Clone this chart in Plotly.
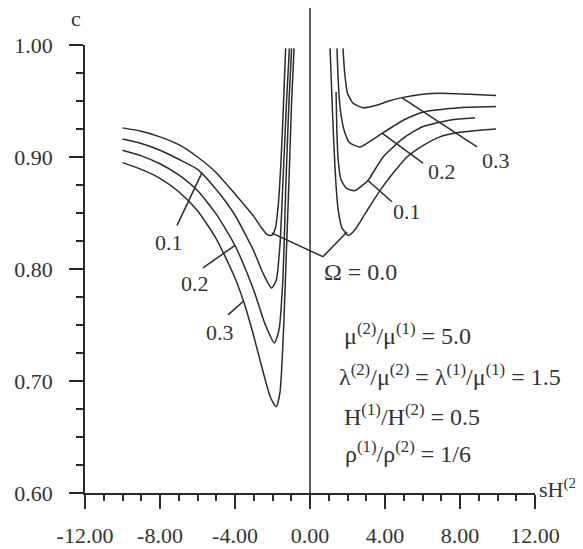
import plotly.graph_objects as go

# ---------------- data ----------------
x_tick_vals = [-12, -8, -4, 0, 4, 8, 12]
x_tick_text = ["-12.00", "-8.00", "-4.00", "0.00", "4.00", "8.00", "12.00"]
y_tick_vals = [0.60, 0.70, 0.80, 0.90, 1.00]
y_tick_text = ["0.60", "0.70", "0.80", "0.90", "1.00"]

# left branch (negative sH), Omega = 0.0, 0.1, 0.2, 0.3
left_x_00 = [-10, -9, -8, -7, -6, -5, -4, -3, -2.6, -2.3, -2.05, -1.85, -1.7, -1.55, -1.42, -1.3]
left_c_00 = [0.926, 0.923, 0.918, 0.911, 0.900, 0.886, 0.867, 0.847, 0.837, 0.831, 0.830, 0.836, 0.856, 0.895, 0.945, 0.997]
left_x_01 = [-10, -9, -8, -7, -6, -5, -4, -3, -2.5, -2.05, -1.8, -1.6, -1.44, -1.25, -1.1]
left_c_01 = [0.916, 0.912, 0.906, 0.898, 0.889, 0.871, 0.848, 0.816, 0.796, 0.783, 0.790, 0.822, 0.879, 0.950, 0.997]
left_x_02 = [-10, -9, -8, -7, -6, -5, -4, -3, -2.4, -1.9, -1.65, -1.45, -1.28, -1.12, -0.98]
left_c_02 = [0.906, 0.901, 0.894, 0.884, 0.870, 0.849, 0.821, 0.781, 0.751, 0.734, 0.746, 0.790, 0.879, 0.950, 0.997]
left_x_03 = [-10, -9, -8, -7, -6, -5, -4, -3.5, -3, -2.5, -2.1, -1.8, -1.6, -1.4, -1.25, -1.12, -0.98, -0.85]
left_c_03 = [0.895, 0.889, 0.881, 0.869, 0.852, 0.827, 0.792, 0.769, 0.740, 0.708, 0.685, 0.677, 0.690, 0.750, 0.820, 0.879, 0.950, 0.997]

# right branch (positive sH)
right_x_00 = [1.07, 1.2, 1.35, 1.5, 1.7, 2.05, 2.4, 3.0, 3.73, 4.5, 5.17, 6.0, 6.93, 8.0, 9.92]
right_c_00 = [0.997, 0.940, 0.885, 0.853, 0.837, 0.830, 0.835, 0.851, 0.870, 0.887, 0.900, 0.910, 0.918, 0.922, 0.925]
right_x_01 = [1.39, 1.43, 1.5, 1.65, 1.95, 2.4, 2.75, 3.09, 3.9, 5.0, 6.0, 7.5, 8.8]
right_c_01 = [0.958, 0.925, 0.898, 0.880, 0.872, 0.870, 0.874, 0.879, 0.900, 0.917, 0.927, 0.933, 0.935]
right_x_02 = [1.44, 1.5, 1.6, 1.8, 2.1, 2.67, 3.2, 3.84, 5.0, 6.0, 8.0, 9.92]
right_c_02 = [0.997, 0.970, 0.945, 0.925, 0.913, 0.909, 0.914, 0.921, 0.933, 0.940, 0.944, 0.945]
right_x_03 = [1.76, 1.85, 2.0, 2.3, 2.83, 3.5, 4.2, 4.9, 6.0, 6.93, 8.5, 9.92]
right_c_03 = [0.997, 0.975, 0.957, 0.948, 0.944, 0.946, 0.950, 0.953, 0.956, 0.957, 0.956, 0.955]

# label leader lines
leader_l01_x = [-7.09, -5.76]; leader_l01_c = [0.839, 0.886]
leader_l02_x = [-5.71, -4.0];  leader_l02_c = [0.801, 0.821]
leader_l03_x = [-4.37, -3.57]; leader_l03_c = [0.759, 0.771]
leader_r01_x = [4.37, 3.09];   leader_r01_c = [0.860, 0.879]
leader_r02_x = [6.03, 3.84];   leader_r02_c = [0.8946, 0.9214]
leader_r03_x = [8.91, 4.91];   leader_r03_c = [0.909, 0.9527]
leader_om0_x = [-2.03, 0.69, 1.97]; leader_om0_c = [0.832, 0.811, 0.833]

# label texts and anchor positions
curve_labels = ["0.1", "0.2", "0.3", "0.1", "0.2", "0.3"]
curve_label_x = [-7.52, -6.13, -4.80, 5.17, 7.04, 9.92]
curve_label_c = [0.824, 0.7875, 0.743, 0.851, 0.8875, 0.897]

param_lines = [
    "μ<sup>(2)</sup>/μ<sup>(1)</sup> = 5.0",
    "λ<sup>(2)</sup>/μ<sup>(2)</sup> = λ<sup>(1)</sup>/μ<sup>(1)</sup> = 1.5",
    "H<sup>(1)</sup>/H<sup>(2)</sup> = 0.5",
    "ρ<sup>(1)</sup>/ρ<sup>(2)</sup> = 1/6",
]
param_x = [1.71, 1.44, 1.71, 1.76]
param_c = [0.742, 0.705, 0.670, 0.637]

# ---------------- styling ----------------
INK = "#2b2b2b"
TXT = "#333333"
FONT = "Liberation Serif"
FS = 22

fig = go.Figure()

curves = [
    (left_x_00, left_c_00), (left_x_01, left_c_01), (left_x_02, left_c_02), (left_x_03, left_c_03),
    (right_x_00, right_c_00), (right_x_01, right_c_01), (right_x_02, right_c_02), (right_x_03, right_c_03),
]
for xs, cs in curves:
    fig.add_trace(go.Scatter(x=xs, y=cs, mode="lines",
                             line=dict(color=INK, width=1.5, shape="spline", smoothing=0.6),
                             hoverinfo="skip", showlegend=False))

leaders = [
    (leader_l01_x, leader_l01_c), (leader_l02_x, leader_l02_c), (leader_l03_x, leader_l03_c),
    (leader_r01_x, leader_r01_c), (leader_r02_x, leader_r02_c), (leader_r03_x, leader_r03_c),
    (leader_om0_x, leader_om0_c),
]
for xs, cs in leaders:
    fig.add_trace(go.Scatter(x=xs, y=cs, mode="lines",
                             line=dict(color=INK, width=1.5),
                             hoverinfo="skip", showlegend=False))

annotations = []
for t, xv, cv in zip(curve_labels, curve_label_x, curve_label_c):
    annotations.append(dict(x=xv, y=cv, xref="x", yref="y", text=t, showarrow=False,
                            xanchor="center", yanchor="middle",
                            font=dict(family=FONT, size=FS, color=TXT)))
annotations.append(dict(x=0.64, y=0.797, xref="x", yref="y", text="Ω = 0.0", showarrow=False,
                        xanchor="left", yanchor="middle",
                        font=dict(family=FONT, size=24, color=TXT)))
for t, xv, cv in zip(param_lines, param_x, param_c):
    annotations.append(dict(x=xv, y=cv, xref="x", yref="y", text=t, showarrow=False,
                            xanchor="left", yanchor="middle",
                            font=dict(family=FONT, size=24, color=TXT)))
annotations.append(dict(x=-0.02, y=1.06, xref="paper", yref="paper", text="c", showarrow=False,
                        xanchor="center", yanchor="middle",
                        font=dict(family=FONT, size=FS, color=TXT)))
annotations.append(dict(x=1.004, y=0.012, xref="paper", yref="paper", text="sH<sup>(2)</sup>",
                        showarrow=False, xanchor="left", yanchor="middle",
                        font=dict(family=FONT, size=FS, color=TXT)))

# page body has an 8px margin, so the figure is drawn 8px in from the top-left
fig.update_layout(
    width=575, height=541,
    margin=dict(l=77, r=48, t=37, b=56, autoexpand=False),
    paper_bgcolor="white", plot_bgcolor="white",
    showlegend=False,
    annotations=annotations,
    shapes=[dict(type="line", xref="x", yref="paper", x0=0, x1=0, y0=0, y1=1.083,
                 line=dict(color=INK, width=1.5))],
    xaxis=dict(range=[-12, 12], showgrid=False, zeroline=False, automargin=False,
               showline=True, linecolor=INK, linewidth=1.5,
               ticks="outside", ticklen=14, tickwidth=1.5, tickcolor=INK,
               tickvals=x_tick_vals, ticktext=x_tick_text,
               ticklabelstandoff=8,
               tickfont=dict(family=FONT, size=FS, color=TXT),
               minor=dict(ticks="outside", ticklen=6, tickwidth=1.5, tickcolor=INK,
                          tick0=-12, dtick=1, showgrid=False)),
    yaxis=dict(range=[0.6, 1.0], showgrid=False, zeroline=False, automargin=False,
               showline=True, linecolor=INK, linewidth=1.5,
               ticks="outside", ticklen=14, tickwidth=1.5, tickcolor=INK,
               tickvals=y_tick_vals, ticktext=y_tick_text,
               ticklabelstandoff=12,
               tickfont=dict(family=FONT, size=FS, color=TXT),
               minor=dict(ticks="outside", ticklen=7, tickwidth=1.5, tickcolor=INK,
                          tick0=0.6, dtick=0.025, showgrid=False)),
)

fig.write_html("out.html")
